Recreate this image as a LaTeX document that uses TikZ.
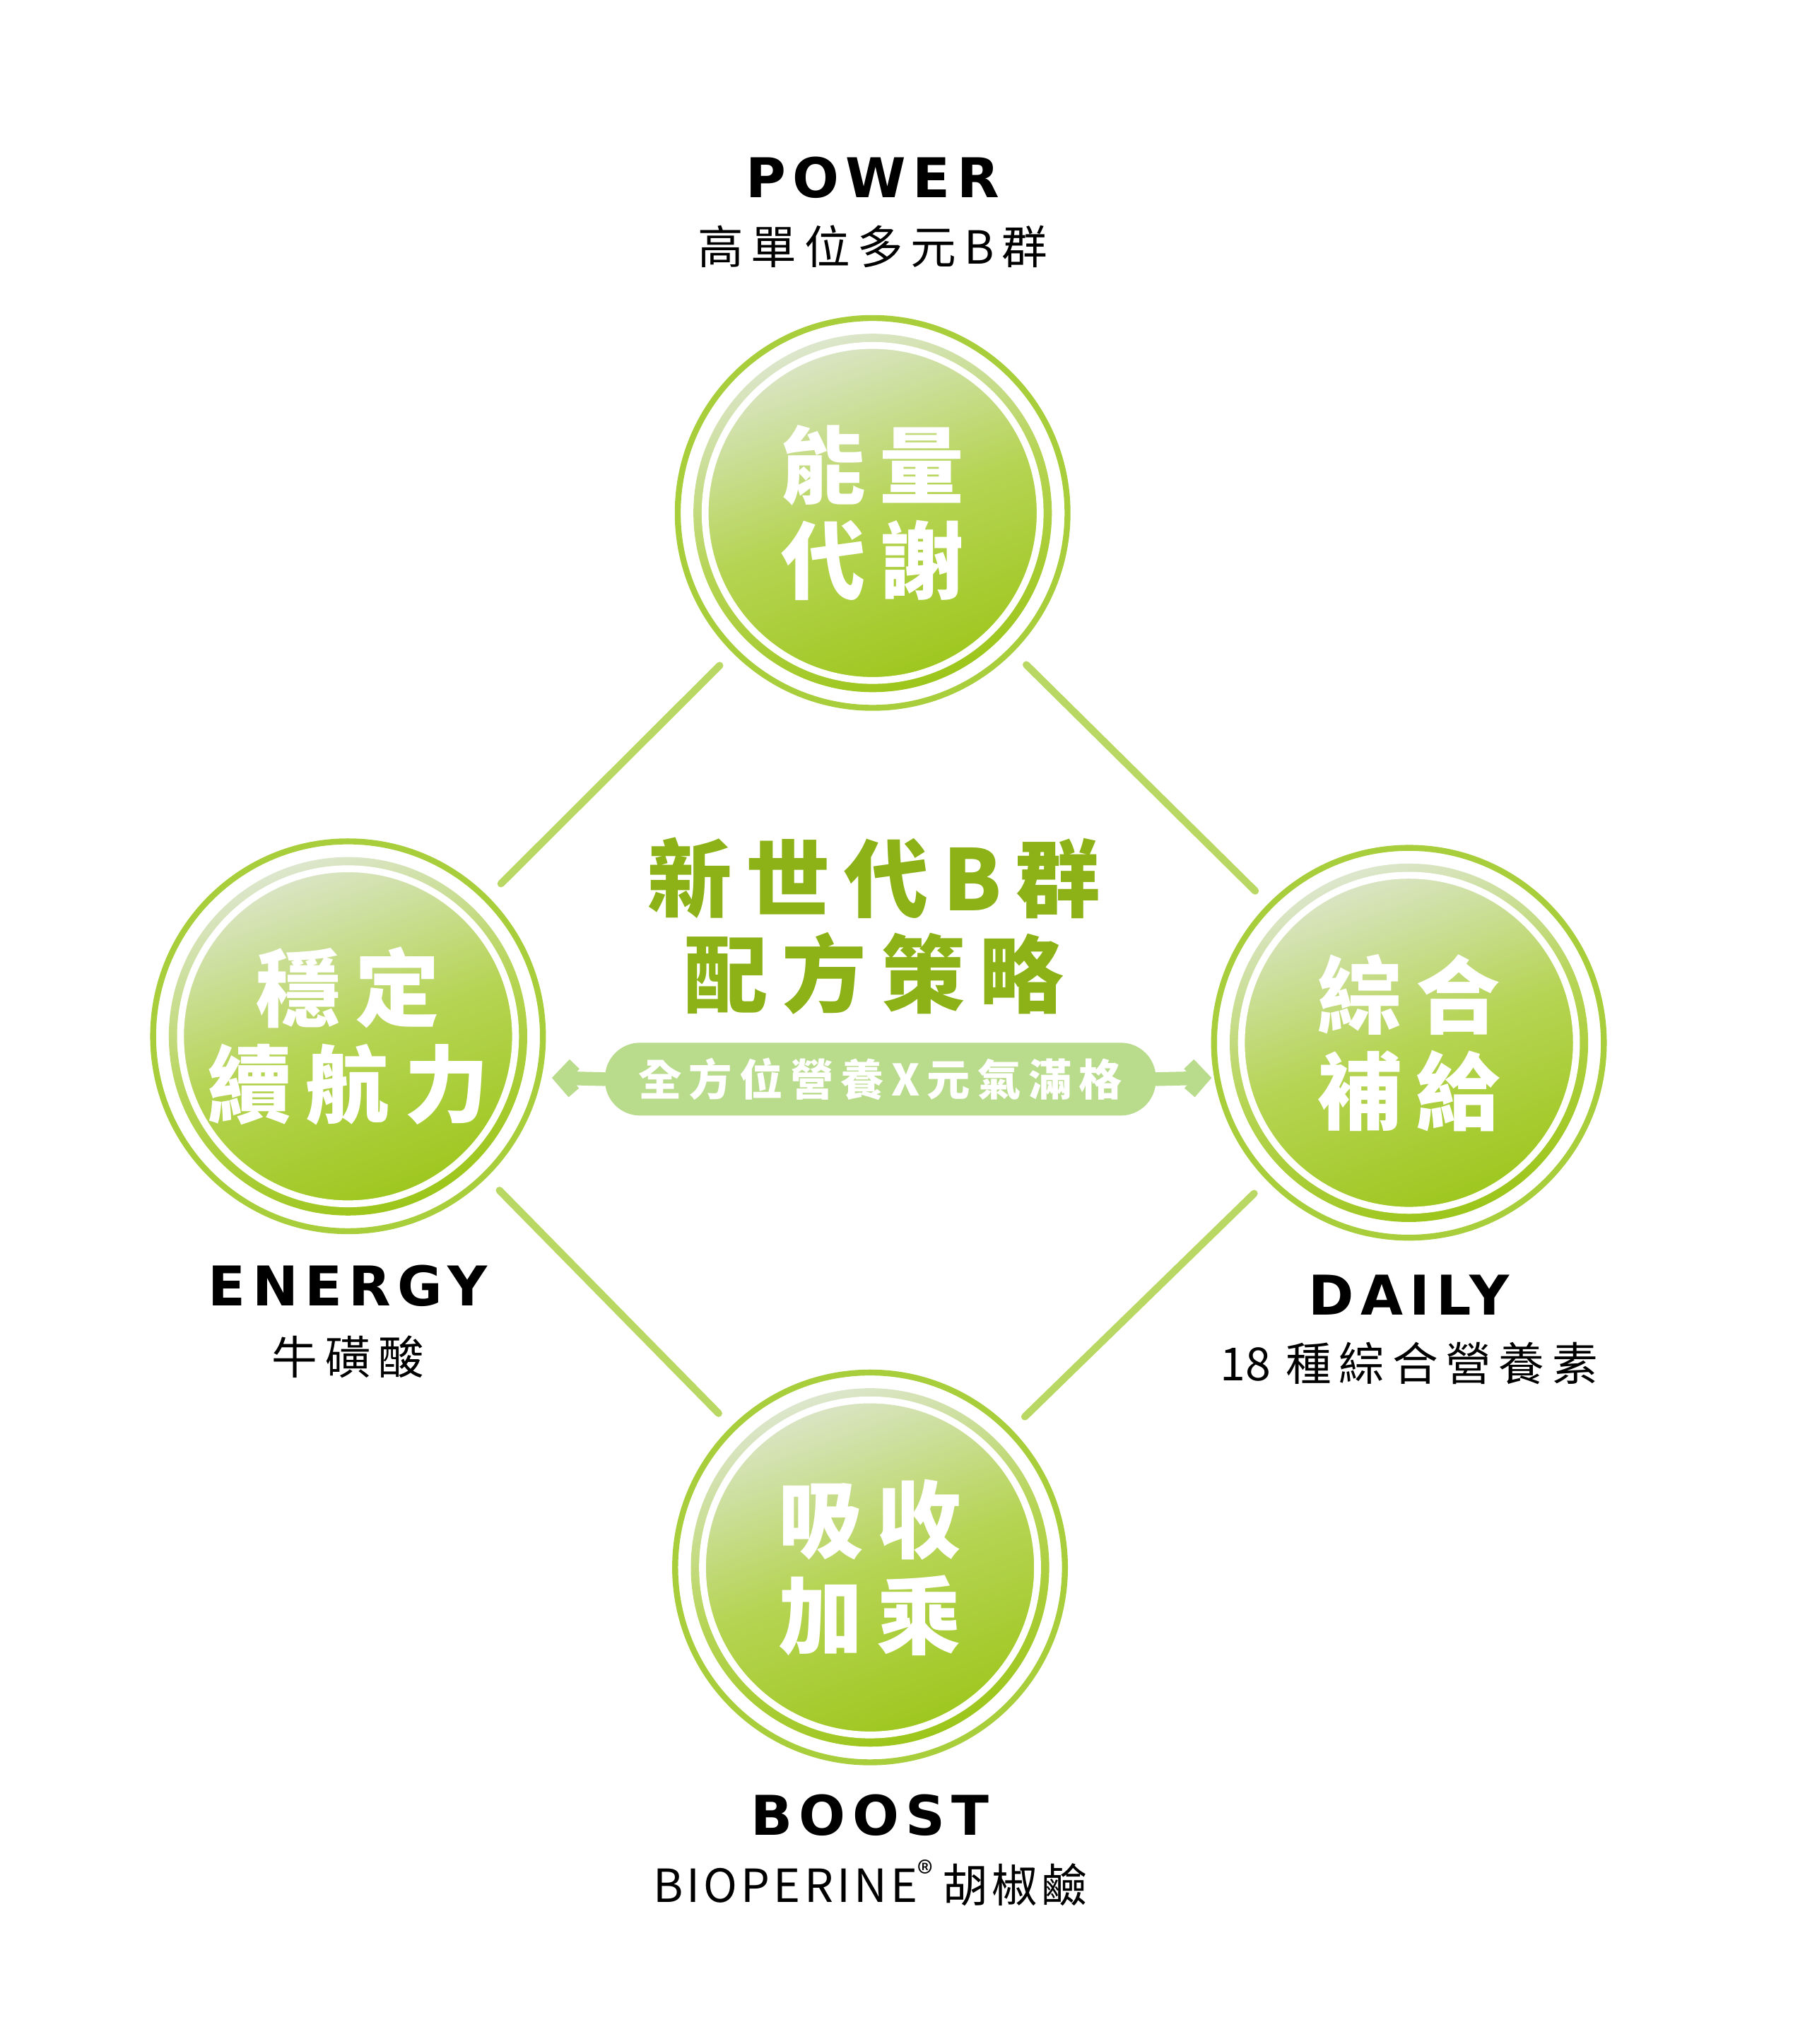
\documentclass[tikz,border=0pt]{standalone}
\usepackage{fontspec}
\setmainfont{Liberation Sans}
\newfontfamily\cjk{Noto Sans CJK TC}
\newfontfamily\cjkb{Noto Sans CJK TC Black}
\newfontfamily\wide[LetterSpace=12]{DejaVu Sans}
\usetikzlibrary{positioning}
\usetikzlibrary{arrows.meta}
\definecolor{leaf}{HTML}{9DC61B}
\definecolor{leaflight}{HTML}{DCE6CC}
\definecolor{ring}{HTML}{A8CE3C}
\definecolor{pill}{HTML}{B9DB8C}
\tikzstyle{every path}=[line cap=round, line join=round]
\tikzset{
  ballrim/.style={circle, draw=ring, line width=1.3pt, minimum size=3cm, inner sep=0pt},
  balltxt/.style={text=white, align=center, font=\cjk\bfseries\fontsize{18.5}{23}\selectfont},
  entitle/.style={font=\wide\bfseries\fontsize{12}{14}\selectfont},
  ensub/.style={font=\cjk\fontsize{10}{12}\selectfont},
  link/.style={ring!80, line width=1.6pt, shorten >=0.14cm, shorten <=0.14cm},
}
\newcommand{\ball}[3]{%
  \shade[top color=leaflight, bottom color=leaf, middle color=leaf!75!white, shading angle=20] (#1) circle (138);
  \draw[white, line width=1.5pt] (#1) circle (129);
  \node[ballrim] (#2) at (#1) {};
  \node[balltxt] at (#1) {#3};
}
\begin{document}
\begin{tikzpicture}[x=0.01cm, y=-0.01cm]
        \useasboundingbox (0,0) rectangle (1390,1574);
        %burbujas
        \ball{672,395}{top}{能\,量\\[-2pt]代\,謝}
        \ball{268,798}{left}{穩\,定\\[-2pt]續\,航\,力}
        \ball{1085,803}{right}{綜\,合\\[-2pt]補\,給}
        \ball{670,1207}{bottom}{吸\,收\\[-2pt]加\,乘}
        %lineas
        \draw[link] (top) -- (left);
        \draw[link] (top) -- (right);
        \draw[link] (bottom) -- (left);
        \draw[link] (bottom) -- (right);
        %centro
        \node[text=leaf!90!black, font=\cjkb\fontsize{18.5}{22}\selectfont, align=center] (title) at (673,713) {新\,世\,代\,B\,群\\[-1pt]配\,方\,策\,略};
        \node[fill=pill, rounded corners=0.27cm, minimum width=4.24cm, minimum height=0.56cm, text=white,
              font=\cjk\bfseries\fontsize{9.5}{11}\selectfont] (pill) at (678,831) {全\,方\,位\,營\,養\,X\,元\,氣\,滿\,格};
        \coordinate (pl) at (425,830);
        \coordinate (pr) at (933,830);
        \draw[pill, line width=3pt, -{Straight Barb[length=0.1cm,width=0.22cm]}] (pill.west) -- (pl);
        \draw[pill, line width=3pt, -{Straight Barb[length=0.1cm,width=0.22cm]}] (pill.east) -- (pr);
        %textos
        \node[entitle] (power) at (672,137) {POWER};
        \node[ensub] (powersub) at (672,190) {高\,單\,位\,多\,元\,B\,群};
        \node[entitle] (energy) at (268,990) {ENERGY};
        \node[ensub] (energysub) at (268,1045) {牛\,磺\,酸};
        \node[entitle] (daily) at (1085,997) {DAILY};
        \node[ensub] (dailysub) at (1085,1050) {18\,\,種\,綜\,合\,營\,養\,素};
        \node[entitle] (boost) at (670,1398) {BOOST};
        \node[ensub] (boostsub) at (670,1450) {\addfontfeature{LetterSpace=8}BIOPERINE\textsuperscript{\textregistered}\,胡椒鹼};
\end{tikzpicture}
\end{document}
